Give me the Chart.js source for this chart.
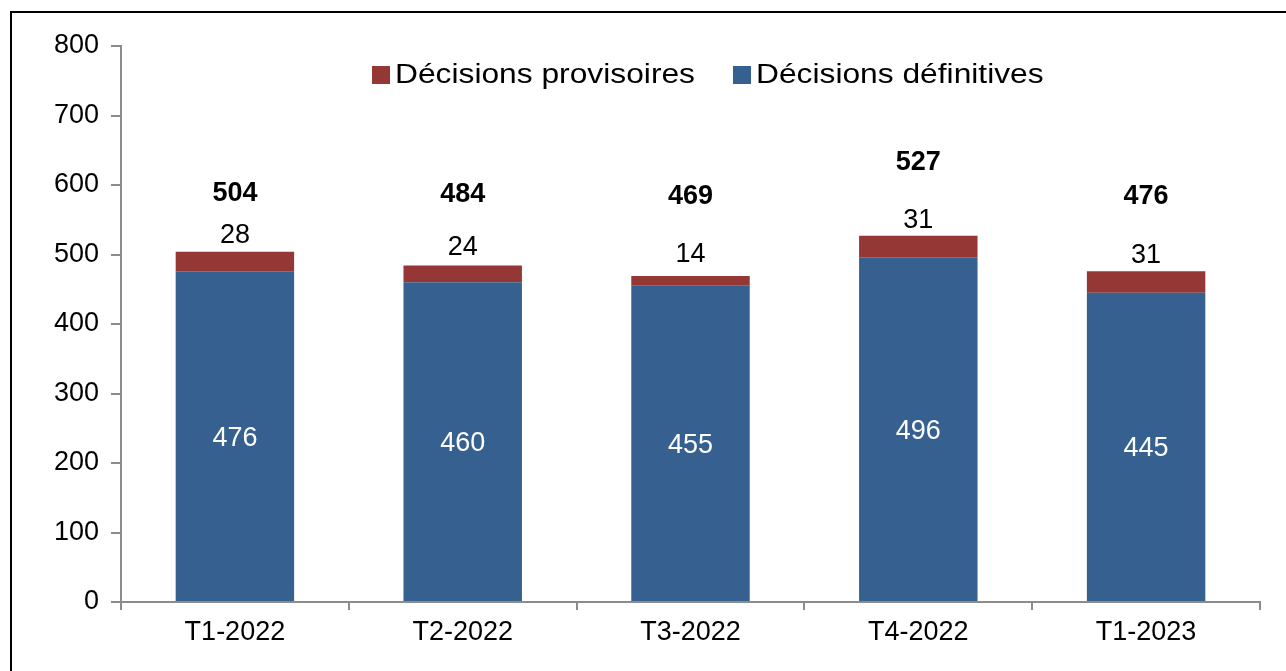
<!DOCTYPE html>
<html>
<head>
<meta charset="utf-8">
<script src="https://cdn.jsdelivr.net/npm/chart.js@4"></script>
<style>
  html, body { margin: 0; padding: 0; background: #fff; overflow: hidden; }
  #frame { position: absolute; left: 10px; top: 11px; width: 1300px; height: 700px; border: 2px solid #000; }
  #wrap { position: absolute; left: 0; top: 0; width: 1286px; height: 671px; }
</style>
</head>
<body>
<div id="frame"></div>
<div id="wrap"><canvas id="mychart" width="1286" height="671"></canvas></div>
<script>
let quarters = ['T1-2022', 'T2-2022', 'T3-2022', 'T4-2022', 'T1-2023'];
let definitives = [476, 460, 455, 496, 445];
let provisoires = [28, 24, 14, 31, 31];
let yTicks = [0, 100, 200, 300, 400, 500, 600, 700, 800];
// where the bold totals sit (in axis units), as placed in the original
let totalLabelAt = [587, 586, 583, 633, 584];

let blue = '#36608f';
let red = '#953735';
let font = 'Liberation Sans, Arial, sans-serif';

let labelPlugin = {
  id: 'labels',
  afterDatasetsDraw(chart) {
    let ctx = chart.ctx;
    let y = chart.scales.y;
    let blueMeta = chart.getDatasetMeta(0);
    let redMeta = chart.getDatasetMeta(1);
    ctx.save();
    ctx.textAlign = 'center';
    ctx.textBaseline = 'middle';
    quarters.forEach((q, i) => {
      let bar = blueMeta.data[i];
      let top = redMeta.data[i];
      // value inside blue bar
      ctx.font = '27px ' + font;
      ctx.fillStyle = '#fff';
      ctx.fillText(definitives[i], bar.x, (bar.y + bar.base) / 2 + 2);
      // provisoires above the red segment
      ctx.fillStyle = '#000';
      ctx.fillText(provisoires[i], top.x, (top.y + top.base) / 2 - 26);
      // total
      ctx.font = 'bold 27px ' + font;
      ctx.fillText(definitives[i] + provisoires[i], top.x, y.getPixelForValue(totalLabelAt[i]));
    });
    ctx.restore();
  },
  afterDraw(chart) {
    let ctx = chart.ctx;
    let items = [
      { text: chart.data.datasets[1].label, color: red },
      { text: chart.data.datasets[0].label, color: blue }
    ];
    let sx = 1.176;
    let x = 372;
    ctx.save();
    ctx.font = '27px ' + font;
    ctx.textBaseline = 'alphabetic';
    items.forEach(it => {
      ctx.fillStyle = it.color;
      ctx.fillRect(x, 66, 18, 18);
      ctx.save();
      ctx.translate(x + 23, 83);
      ctx.scale(sx, 1);
      ctx.fillStyle = '#000';
      ctx.fillText(it.text, 0, 0);
      ctx.restore();
      x += 23 + ctx.measureText(it.text).width * sx + 38;
    });
    ctx.restore();
  }
};

let ctx = document.getElementById('mychart').getContext('2d');
let myChart = new Chart(ctx, {
  type: 'bar',
  data: {
    labels: quarters,
    datasets: [
      { label: 'Décisions définitives', data: definitives, backgroundColor: blue },
      { label: 'Décisions provisoires', data: provisoires, backgroundColor: red }
    ]
  },
  options: {
    responsive: false,
    animation: false,
    layout: { padding: { left: 0, top: 46, right: 26, bottom: 0 } },
    datasets: { bar: { categoryPercentage: 1, barPercentage: 0.52 } },
    plugins: { legend: { display: false }, tooltip: { enabled: false } },
    scales: {
      x: {
        stacked: true,
        afterFit: s => { s.height = 69; },
        grid: { drawOnChartArea: false, drawTicks: true, tickLength: 8, color: '#8c8c8c', lineWidth: 2 },
        border: { display: true, color: '#8c8c8c', width: 2 },
        ticks: { color: '#000', font: { family: font, size: 27 }, padding: 6 }
      },
      y: {
        stacked: true,
        min: 0,
        max: 800,
        afterFit: s => { s.width = 121; },
        afterBuildTicks: s => { s.ticks = yTicks.map(v => ({ value: v })); },
        grid: { drawOnChartArea: false, drawTicks: true, tickLength: 10, color: '#8c8c8c', lineWidth: 2 },
        border: { display: true, color: '#8c8c8c', width: 2 },
        ticks: { color: '#000', font: { family: font, size: 27 }, padding: 12 }
      }
    }
  },
  plugins: [labelPlugin]
});
</script>
</body>
</html>
